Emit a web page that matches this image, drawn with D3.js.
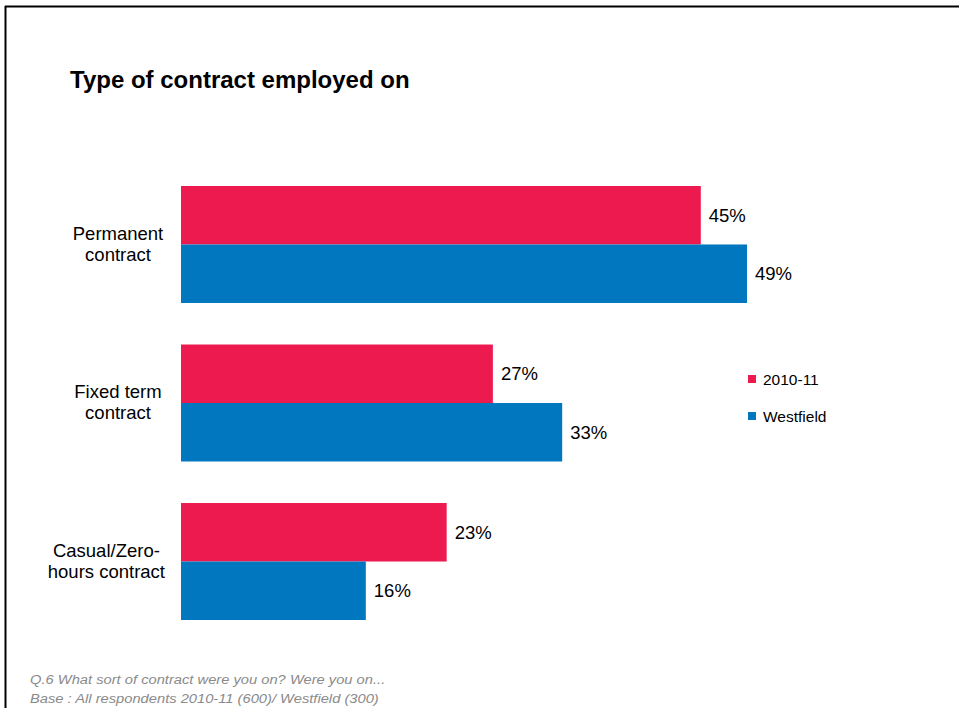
<!DOCTYPE html>
<html>
<head>
<meta charset="utf-8">
<script src="https://cdn.jsdelivr.net/npm/d3@7"></script>
<style>
  html, body { margin: 0; padding: 0; background: #fff; }
  svg { display: block; font-family: "Liberation Sans", Arial, sans-serif; }
</style>
</head>
<body>
<svg id="chart" width="959" height="708"></svg>
<script>
// Contract type shares (%), two survey groups
const categories = [
  ["Permanent", "contract"],
  ["Fixed term", "contract"],
  ["Casual/Zero-", "hours contract"]
];
const seriesNames = ["2010-11", "Westfield"];
const values2010 = [45, 27, 23];
const valuesWestfield = [49, 33, 16];
const seriesColors = ["#ED1A4F", "#0077BF"];

const svg = d3.select("#chart");

// frame lines (top and left)
svg.append("line").attr("x1", 5).attr("x2", 959).attr("y1", 6.5).attr("y2", 6.5)
  .attr("stroke", "#000").attr("stroke-width", 2);
svg.append("line").attr("x1", 5.5).attr("x2", 5.5).attr("y1", 6).attr("y2", 708)
  .attr("stroke", "#000").attr("stroke-width", 2);

svg.append("text").attr("x", 70).attr("y", 88)
  .attr("font-size", 24).attr("font-weight", "bold").attr("fill", "#000")
  .text("Type of contract employed on");

const x = d3.scaleLinear().domain([0, 49]).range([181, 747]);
const y0 = d3.scaleBand().domain(d3.range(categories.length))
  .range([186, 620]).paddingInner(0.262).paddingOuter(0);
const y1 = d3.scaleBand().domain(d3.range(seriesNames.length))
  .range([0, y0.bandwidth()]);

const rows = categories.map((c, i) => ({
  label: c,
  vals: [values2010[i], valuesWestfield[i]]
}));

const g = svg.selectAll("g.cat").data(rows).join("g")
  .attr("class", "cat")
  .attr("transform", (d, i) => `translate(0,${y0(i)})`);

g.selectAll("rect").data(d => d.vals).join("rect")
  .attr("x", x(0))
  .attr("y", (v, j) => y1(j))
  .attr("width", v => x(v) - x(0))
  .attr("height", y1.bandwidth())
  .attr("fill", (v, j) => seriesColors[j]);

g.selectAll("text.val").data(d => d.vals).join("text")
  .attr("class", "val")
  .attr("x", v => x(v) + 8)
  .attr("y", (v, j) => y1(j) + y1.bandwidth() / 2 + 6.5)
  .attr("font-size", 18.5).attr("fill", "#000")
  .text(v => v + "%");

// category labels: centred, but kept clear of the bar baseline
const labelCentre = 118, labelRightLimit = 165;
g.append("text")
  .attr("class", "cat-label")
  .attr("text-anchor", "middle")
  .attr("font-size", 18.5).attr("fill", "#000")
  .selectAll("tspan").data(d => d.label).join("tspan")
  .attr("x", labelCentre)
  .attr("y", (t, k) => y0.bandwidth() / 2 - 4.5 + k * 21)
  .text(t => t);
g.selectAll("text.cat-label").each(function () {
  const spans = d3.select(this).selectAll("tspan").nodes();
  const w = d3.max(spans, s => s.getComputedTextLength());
  const cx = Math.min(labelCentre, labelRightLimit - w / 2);
  d3.select(this).selectAll("tspan").attr("x", cx);
});

// legend
const leg = svg.selectAll("g.leg").data(seriesNames).join("g")
  .attr("class", "leg")
  .attr("transform", (d, i) => `translate(748,${379 + i * 37})`);
leg.append("rect").attr("x", 0).attr("y", -4).attr("width", 8).attr("height", 8)
  .attr("fill", (d, i) => seriesColors[i]);
leg.append("text").attr("x", 15).attr("y", 5.5)
  .attr("font-size", 15.5).attr("fill", "#000").text(d => d);

// footnote
const notes = [
  "Q.6 What sort of contract were you on? Were you on...",
  "Base : All respondents 2010-11 (600)/ Westfield (300)"
];
svg.selectAll("text.note").data(notes).join("text")
  .attr("class", "note")
  .attr("transform", (d, i) => `translate(30,${684 + i * 19}) scale(1.09,1)`)
  .attr("font-size", 13.5).attr("font-style", "italic").attr("fill", "#8a8a8a")
  .text(d => d);
</script>
</body>
</html>
